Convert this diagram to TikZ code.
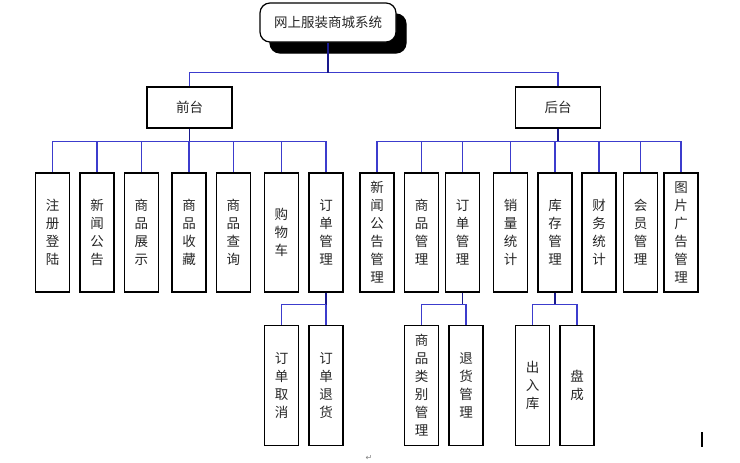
\documentclass[tikz,border=0pt]{standalone}
\usepackage{fontspec}
\newfontfamily\cjk{Noto Sans CJK SC}
\newfontfamily\symb{DejaVu Sans}
\usetikzlibrary{shadows}
\definecolor{busblue}{RGB}{60,60,205}
\definecolor{stemblue}{RGB}{25,25,140}

\begin{document}
\begin{tikzpicture}[x=1pt,y=-1pt,
  every node/.style={font=\cjk\fontsize{13.5}{18}\selectfont,text=black!85},
  top/.style={draw,line width=1.2pt,fill=white,rounded corners=10pt,minimum width=136pt,minimum height=39pt,
    copy shadow={shadow xshift=10pt,shadow yshift=-11pt,fill=black,draw=black}},
  mid/.style={draw,line width=1.2pt,minimum width=85pt,minimum height=41pt},
  leaf/.style={draw,line width=1.2pt,minimum width=34pt,minimum height=119pt,align=center,inner sep=0pt},
  bus/.style={draw=busblue,line width=1.5pt},
  stem/.style={draw=stemblue,line width=1.5pt}]
\useasboundingbox (0,0) rectangle (740,463);
% top levels
\node[top] (root) at (328,22.5) {网上服装商城系统};
\node[mid] (front) at (189.5,107.5) {前台};
\node[mid] (back) at (558,107.5) {后台};
% front leaves
\node[leaf] (f1) at (52.5,232.5) {注\\册\\登\\陆};
\node[leaf] (f2) at (97,232.5) {新\\闻\\公\\告};
\node[leaf] (f3) at (141.3,232.5) {商\\品\\展\\示};
\node[leaf] (f4) at (189,232.5) {商\\品\\收\\藏};
\node[leaf] (f5) at (233.3,232.5) {商\\品\\查\\询};
\node[leaf] (f6) at (281.3,232.5) {购\\物\\车};
\node[leaf] (f7) at (326,232.5) {订\\单\\管\\理};
% back leaves
\node[leaf] (b1) at (377,232.5) {新\\闻\\公\\告\\管\\理};
\node[leaf] (b2) at (421.5,232.5) {商\\品\\管\\理};
\node[leaf] (b3) at (462.5,232.5) {订\\单\\管\\理};
\node[leaf] (b4) at (510.5,232.5) {销\\量\\统\\计};
\node[leaf] (b5) at (555,232.5) {库\\存\\管\\理};
\node[leaf] (b6) at (599,232.5) {财\\务\\统\\计};
\node[leaf] (b7) at (640.5,232.5) {会\\员\\管\\理};
\node[leaf] (b8) at (681,232.5) {图\\片\\广\\告\\管\\理};
% third level
\node[leaf,minimum height=120pt] (g1) at (281.5,385.5) {订\\单\\取\\消};
\node[leaf,minimum height=120pt] (g2) at (326,385.5) {订\\单\\退\\货};
\node[leaf,minimum height=120pt] (g3) at (421.5,385.5) {商\\品\\类\\别\\管\\理};
\node[leaf,minimum height=120pt] (g4) at (466,385.5) {退\\货\\管\\理};
\node[leaf,minimum height=120pt] (g5) at (532.7,385.5) {出\\入\\库};
\node[leaf,minimum height=120pt] (g6) at (577,385.5) {盘\\成};

% connectors
\path[bus] (root.south) ++(0,30) coordinate (rbus)
      (rbus) -| (front.north)
      (rbus) -| (back.north);
\path[stem] (root.south) -- (rbus);
\path[stem] (front.south) -- ++(0,13) coordinate (fbus);
\path[bus] (fbus) -| (f1.north) (fbus) -| (f2.north) (fbus) -| (f3.north)
      (fbus) -| (f4.north) (fbus) -| (f5.north) (fbus) -| (f6.north)
      (fbus) -| (f7.north);
\path[stem] (back.south) -- ++(0,13) coordinate (bbus);
\path[bus] (bbus) -| (b1.north) (bbus) -| (b2.north) (bbus) -| (b3.north)
      (bbus) -| (b4.north) (bbus) -| (b5.north) (bbus) -| (b6.north)
      (bbus) -| (b7.north) (bbus) -| (b8.north);
\path[stem] (f7.south) -- ++(0,12) coordinate (f7bus);
\path[bus] (f7bus) -| (g1.north) (f7bus) -| (g2.north);
\path[stem] (b3.south) -- ++(0,12) coordinate (b3bus);
\path[bus] (b3bus) -| (g3.north) (b3bus) -| (g4.north);
\path[stem] (b5.south) -- ++(0,12) coordinate (b5bus);
\path[bus] (b5bus) -| (g5.north) (b5bus) -| (g6.north);

% editor marks
\node[font=\symb\fontsize{8}{8}\selectfont,text=black!50] (ret) at (369,458) {↵};
\fill (701,432) rectangle (703,447);
\end{tikzpicture}
\end{document}
